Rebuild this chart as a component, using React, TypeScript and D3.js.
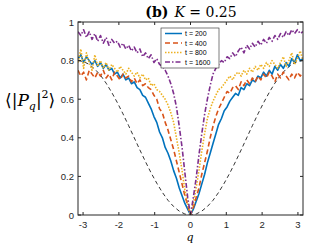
import React from 'react';
import * as d3 from 'd3';

// q grid: 81 points across [-pi, pi]
const nQ = 81;
const qValues = d3.range(nQ).map((i) => -Math.PI + (i * 2 * Math.PI) / (nQ - 1));

const series200 = [
  0.81, 0.83, 0.79, 0.82, 0.8, 0.78, 0.8, 0.77, 0.79, 0.76, 0.78, 0.75, 0.76, 0.73, 0.74, 0.71, 0.73, 0.7, 0.71, 0.68,
  0.69, 0.66, 0.65, 0.62, 0.61, 0.58,
  0.55, 0.51, 0.48, 0.43, 0.4, 0.35, 0.32, 0.28, 0.23, 0.19, 0.14, 0.1, 0.06, 0.03, 0.0,
  0.03, 0.07, 0.11, 0.16, 0.21, 0.27, 0.32, 0.37, 0.42, 0.47, 0.5, 0.54, 0.56, 0.59, 0.61, 0.63, 0.62, 0.66, 0.65, 0.68,
  0.67, 0.7, 0.69, 0.72, 0.71, 0.74, 0.72, 0.75, 0.73, 0.77, 0.75, 0.78, 0.76, 0.79, 0.77, 0.81, 0.79, 0.83, 0.8, 0.81,
];

const series400 = [
  0.75, 0.72, 0.74, 0.7, 0.75, 0.73, 0.71, 0.74, 0.72, 0.75, 0.71, 0.73, 0.7, 0.74, 0.72, 0.7, 0.73, 0.71, 0.72, 0.69,
  0.71, 0.68, 0.7, 0.67, 0.68, 0.66,
  0.65, 0.62, 0.6, 0.55, 0.53, 0.48, 0.44, 0.39, 0.34, 0.28, 0.22, 0.16, 0.1, 0.05, 0.0,
  0.04, 0.09, 0.14, 0.21, 0.27, 0.33, 0.4, 0.46, 0.51, 0.55, 0.58, 0.61, 0.64, 0.63, 0.66, 0.67, 0.65, 0.69, 0.67, 0.7,
  0.68, 0.71, 0.69, 0.72, 0.7, 0.73, 0.71, 0.74, 0.72, 0.69, 0.73, 0.71, 0.74, 0.72, 0.7, 0.73, 0.71, 0.74, 0.72, 0.74,
];

const series800 = [
  0.79, 0.86, 0.76, 0.84, 0.79, 0.75, 0.83, 0.77, 0.8, 0.76, 0.79, 0.75, 0.78, 0.76, 0.74, 0.77, 0.75, 0.73, 0.76, 0.74,
  0.72, 0.74, 0.71, 0.73, 0.7, 0.71,
  0.67, 0.68, 0.65, 0.64, 0.62, 0.6, 0.57, 0.53, 0.48, 0.4, 0.32, 0.23, 0.13, 0.06, 0.0,
  0.06, 0.14, 0.23, 0.33, 0.42, 0.5, 0.55, 0.59, 0.62, 0.65, 0.66, 0.68, 0.7, 0.72, 0.7, 0.73, 0.74, 0.72, 0.75, 0.73,
  0.76, 0.74, 0.77, 0.75, 0.78, 0.76, 0.79, 0.77, 0.8, 0.78, 0.76, 0.79, 0.82, 0.77, 0.8, 0.84, 0.78, 0.81, 0.85, 0.8,
];

const series1600 = [
  0.95, 0.93, 0.96, 0.92, 0.95, 0.91, 0.94, 0.9, 0.93, 0.89, 0.92, 0.88, 0.91, 0.89, 0.9, 0.87, 0.89, 0.86, 0.88, 0.85,
  0.87, 0.84, 0.86, 0.82, 0.84, 0.81,
  0.83, 0.79, 0.81, 0.78, 0.77, 0.75, 0.72, 0.68, 0.63, 0.56, 0.46, 0.35, 0.22, 0.09, 0.0,
  0.09, 0.19, 0.31, 0.42, 0.52, 0.6, 0.67, 0.73, 0.76, 0.78, 0.8, 0.79, 0.82, 0.81, 0.84, 0.82, 0.85, 0.87, 0.84, 0.88,
  0.86, 0.89, 0.87, 0.9, 0.88, 0.91, 0.89, 0.92, 0.9, 0.93, 0.91, 0.94, 0.92, 0.95, 0.93, 0.96, 0.94, 0.96, 0.94, 0.95,
];

// reference (black dashed) curve, 41 points across [-pi, pi]
const refQ = d3.range(41).map((k) => -Math.PI + (k * Math.PI) / 20);
const refValues = [
  0.8, 0.795, 0.78, 0.756, 0.724, 0.683, 0.635, 0.582, 0.524, 0.463, 0.4, 0.337, 0.276, 0.218, 0.165, 0.117, 0.076,
  0.044, 0.02, 0.005, 0.0, 0.005, 0.02, 0.044, 0.076, 0.117, 0.165, 0.218, 0.276, 0.337, 0.4, 0.463, 0.524, 0.582,
  0.635, 0.683, 0.724, 0.756, 0.78, 0.795, 0.8,
];

const legendLabels = ['t = 200', 't = 400', 't = 800', 't = 1600'];
const xTicks = [-3, -2, -1, 0, 1, 2, 3];
const yTicks = [0, 0.2, 0.4, 0.6, 0.8, 1];

const W = 312;
const H = 245;
const plot = { left: 78, right: 303, top: 22, bottom: 215 };

const styles = [
  { color: '#0072BD', dash: 'none', width: 1.6 },
  { color: '#D95319', dash: '5,3', width: 1.6 },
  { color: '#EDB120', dash: '1.5,1.5', width: 1.6 },
  { color: '#7E2F8E', dash: '5,2,1.5,2', width: 1.6 },
];

const App = () => {
  const x = d3.scaleLinear().domain([-Math.PI, Math.PI]).range([plot.left, plot.right]);
  const y = d3.scaleLinear().domain([0, 1]).range([plot.bottom, plot.top]);

  const line = d3
    .line<number>()
    .x((d, i) => x(qValues[i]))
    .y((d) => y(d));

  const refLine = d3
    .line<number>()
    .x((d, i) => x(refQ[i]))
    .y((d) => y(d));

  const allSeries = [series200, series400, series800, series1600];
  const axisColor = '#262626';
  const tickFont = '"Liberation Sans", Arial, sans-serif';
  const serif = '"DejaVu Serif", "Liberation Serif", serif';

  // legend box
  const lg = { left: 161, top: 28, width: 58, height: 40 };

  return (
    <svg width={W} height={H} style={{ position: 'absolute', left: 0, top: 0, background: '#fff' }}>
      {/* title */}
      <text x={191} y={17} textAnchor="middle" fontFamily={serif} fontSize={14} fill="#000">
        <tspan fontWeight="bold">(b)</tspan>
        <tspan dx={6} fontStyle="italic">K</tspan>
        <tspan> = 0.25</tspan>
      </text>

      <defs>
        <clipPath id="plotClip">
          <rect x={plot.left} y={plot.top} width={plot.right - plot.left} height={plot.bottom - plot.top} />
        </clipPath>
      </defs>

      <g clipPath="url(#plotClip)">
        <path d={refLine(refValues) || ''} fill="none" stroke="#000" strokeWidth={0.8} strokeDasharray="4,3" />
        {allSeries.map((s, i) => (
          <path
            key={i}
            d={line(s) || ''}
            fill="none"
            stroke={styles[i].color}
            strokeWidth={styles[i].width}
            strokeDasharray={styles[i].dash}
            strokeLinejoin="round"
          />
        ))}
      </g>

      {/* axes box */}
      <rect
        x={plot.left}
        y={plot.top}
        width={plot.right - plot.left}
        height={plot.bottom - plot.top}
        fill="none"
        stroke={axisColor}
        strokeWidth={1}
      />
      {xTicks.map((t) => (
        <g key={'x' + t}>
          <line x1={x(t)} x2={x(t)} y1={plot.bottom} y2={plot.bottom - 3} stroke={axisColor} />
          <line x1={x(t)} x2={x(t)} y1={plot.top} y2={plot.top + 3} stroke={axisColor} />
          <text x={x(t)} y={plot.bottom + 13} textAnchor="middle" fontFamily={tickFont} fontSize={9.5} fill={axisColor}>
            {t < 0 ? '-' + Math.abs(t) : t}
          </text>
        </g>
      ))}
      {yTicks.map((t) => (
        <g key={'y' + t}>
          <line x1={plot.left} x2={plot.left + 3} y1={y(t)} y2={y(t)} stroke={axisColor} />
          <line x1={plot.right} x2={plot.right - 3} y1={y(t)} y2={y(t)} stroke={axisColor} />
          <text x={plot.left - 4} y={y(t) + 3.5} textAnchor="end" fontFamily={tickFont} fontSize={9.5} fill={axisColor}>
            {t}
          </text>
        </g>
      ))}

      {/* axis labels */}
      <text x={190} y={241} textAnchor="middle" fontFamily={serif} fontStyle="italic" fontSize={11} fill="#000">
        q
      </text>
      <text x={5} y={106} fontFamily={serif} fontSize={17} fill="#000">
        <tspan>⟨|</tspan>
        <tspan fontStyle="italic">P</tspan>
        <tspan fontStyle="italic" fontSize={11} dy={4}>q</tspan>
        <tspan dy={-4}>|</tspan>
        <tspan fontSize={11} dy={-8}>2</tspan>
        <tspan dy={8}>⟩</tspan>
      </text>

      {/* legend */}
      <rect x={lg.left} y={lg.top} width={lg.width} height={lg.height} fill="#fff" stroke={axisColor} strokeWidth={0.6} />
      {legendLabels.map((label, i) => {
        const ly = lg.top + 5.5 + i * 9.5;
        return (
          <g key={label}>
            <line
              x1={lg.left + 4}
              x2={lg.left + 21}
              y1={ly}
              y2={ly}
              stroke={styles[i].color}
              strokeWidth={1.5}
              strokeDasharray={styles[i].dash}
            />
            <text x={lg.left + 24} y={ly + 2.5} fontFamily={tickFont} fontSize={7} fill="#000">
              {label}
            </text>
          </g>
        );
      })}
    </svg>
  );
};

export default App;
